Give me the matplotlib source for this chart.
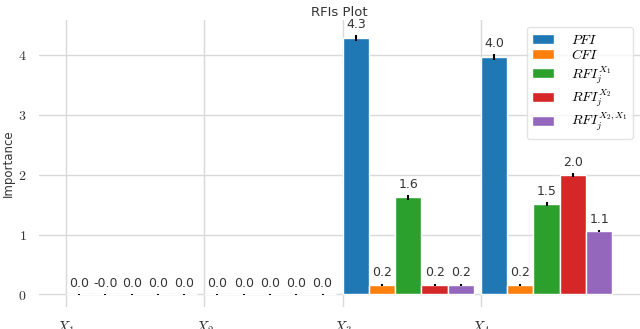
import numpy as np
import matplotlib
matplotlib.use("Agg")
import matplotlib.pyplot as plt

# features and methods
features = ['$X_1$', '$X_2$', '$X_3$', '$X_4$']
methods = ['$PFI$', '$CFI$', '$RFI_j^{X_1}$', '$RFI_j^{X_2}$', '$RFI_j^{X_2,X_1}$']
colors = ['#1f77b4', '#ff7f0e', '#2ca02c', '#d62728', '#9467bd']

# importance values per method (one value per feature)
pfi = [0.0, 0.0, 4.28, 3.96]
cfi = [-0.0, 0.0, 0.16, 0.16]
rfi_x1 = [0.0, 0.0, 1.62, 1.51]
rfi_x2 = [0.0, 0.0, 0.16, 1.99]
rfi_x2x1 = [0.0, 0.0, 0.16, 1.06]

# standard deviations
pfi_err = [0.004, 0.004, 0.05, 0.05]
cfi_err = [0.004, 0.004, 0.02, 0.02]
rfi_x1_err = [0.004, 0.004, 0.04, 0.03]
rfi_x2_err = [0.004, 0.004, 0.02, 0.03]
rfi_x2x1_err = [0.004, 0.004, 0.02, 0.02]

values = [pfi, cfi, rfi_x1, rfi_x2, rfi_x2x1]
errors = [pfi_err, cfi_err, rfi_x1_err, rfi_x2_err, rfi_x2x1_err]

plt.rcParams['mathtext.fontset'] = 'cm'
plt.rcParams['font.family'] = 'DejaVu Sans'

fig = plt.figure(figsize=(6.4, 3.29), dpi=100)
ax = fig.add_axes([39 / 640, 22 / 329, 601 / 640, 287 / 329])
ax.set_axisbelow(True)
ax.grid(True, color='#d9d9d9', linewidth=1)
for s in ax.spines.values():
    s.set_visible(False)

x = np.arange(len(features))
width = 0.19
for i, (vals, errs) in enumerate(zip(values, errors)):
    bars = ax.bar(x + i * width, vals, width, align='edge', color=colors[i],
                  edgecolor='white', linewidth=1, label=methods[i],
                  yerr=errs, error_kw=dict(ecolor='black', elinewidth=1.5, capsize=0))
    ax.bar_label(bars, labels=[f"{v:.1f}" for v in vals], padding=3,
                 fontsize=9, color='#333333')

ax.set_xticks(x)
ax.set_xticklabels(features, fontsize=11)
ax.set_yticks([0, 1, 2, 3, 4])
ax.set_yticklabels(['$0$', '$1$', '$2$', '$3$', '$4$'], fontsize=10)
ax.tick_params(axis='both', length=0, pad=9, colors='#333333')
ax.set_xlim(-0.195, 4.15)
ax.set_ylim(-0.21, 4.58)
ax.set_ylabel('Importance', fontsize=8.5, color='#333333', labelpad=2)
ax.set_title('RFIs Plot', fontsize=9.5, color='#333333', pad=3)

ax.legend(loc='upper right', fontsize=10, handlelength=1.6, labelspacing=0.12,
          handletextpad=1.2, borderpad=0.4, frameon=True, edgecolor='#dddddd',
          framealpha=0.8)

fig.savefig('out.png', dpi=100)
